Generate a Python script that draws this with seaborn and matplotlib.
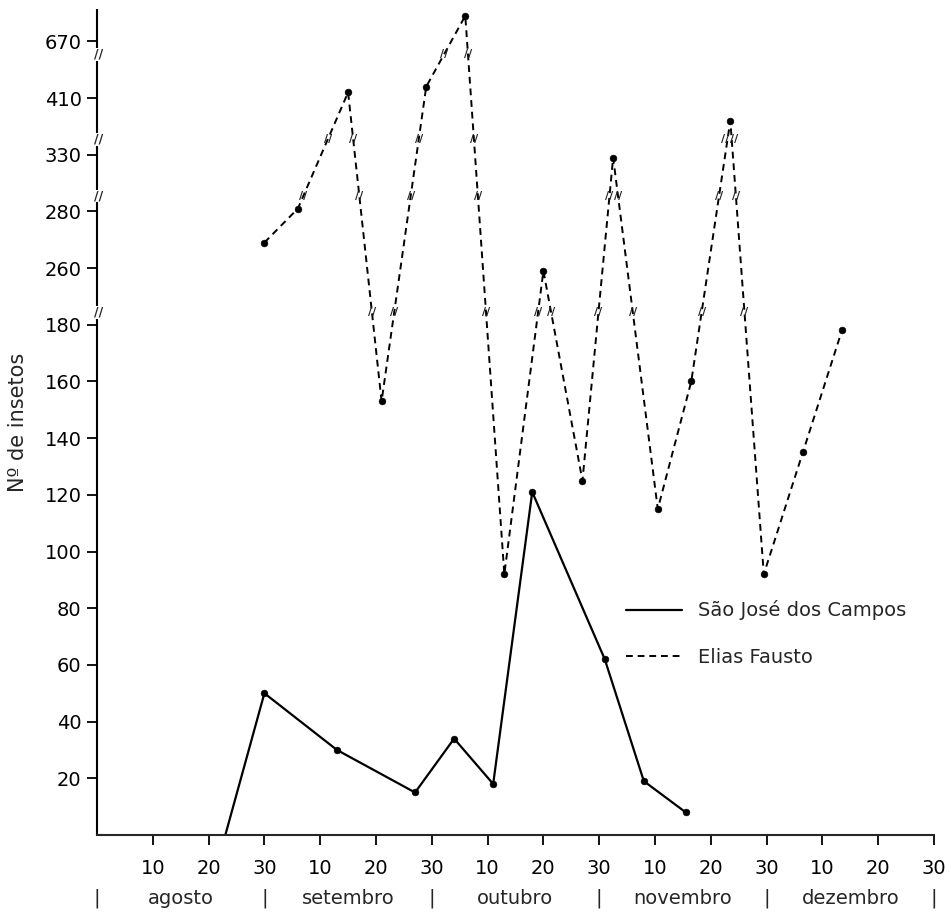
import numpy as np
import pandas as pd
import matplotlib
matplotlib.use("Agg")
import matplotlib.pyplot as plt
import seaborn as sns

# ---------------- data (days counted from 1 August) ----------------
sjc_day = [23, 30, 43, 57, 64, 71, 78, 91, 98, 105.5]
sjc_val = [0, 50, 30, 15, 34, 18, 121, 62, 19, 8]

ef_day = [30, 36, 45, 51, 59, 66, 73, 80, 87, 92.5, 100.5, 106.5, 113.5, 119.5, 126.5, 133.5]
ef_val = [269, 281, 412, 153, 414, 679, 92, 259, 125, 329, 115, 160, 402, 92, 135, 178]

y_ticks = [20, 40, 60, 80, 100, 120, 140, 160, 180, 260, 280, 330, 410, 670]
x_ticks = list(range(10, 151, 10))
x_tick_labels = ["10", "20", "30"] * 5
months = ["agosto", "setembro", "outubro", "novembro", "dezembro"]
month_bounds = [0, 30, 60, 90, 120, 150]

series_names = ["São José dos Campos", "Elias Fausto"]
y_label = "Nº de insetos"

# broken-axis mapping (value -> position, one tick step = 1)
knot_val = [-1000, 0, 184, 220, 254, 285, 300, 322, 334, 360, 398, 422, 500, 667, 700, 5000]
knot_pos = [-50, 0, 9.2, 9.22, 9.7, 11.25, 11.27, 11.6, 12.2, 12.27, 12.4, 13.6, 13.77, 13.85, 15.5, 230]
break_pos = [9.22, 11.27, 12.27, 13.77]
POS_TOP = 14.57


def fwd(v):
    return np.interp(v, knot_val, knot_pos)


def inv(p):
    return np.interp(p, knot_pos, knot_val)


sns.set_style("ticks")
plt.rcParams["font.family"] = ["DejaVu Sans"]

fig = plt.figure(figsize=(9.5, 9.14), dpi=100)
ax = fig.add_axes([97 / 950, 1 - 835 / 914, (934 - 97) / 950, (835 - 9) / 914])
ax.set_yscale("function", functions=(fwd, inv))

sjc = pd.DataFrame({"dia": sjc_day, "n": sjc_val})
ef = pd.DataFrame({"dia": ef_day, "n": ef_val})

sns.lineplot(data=sjc, x="dia", y="n", ax=ax, color="black", linewidth=1.6,
             label=series_names[0], sort=False)
sns.lineplot(data=ef, x="dia", y="n", ax=ax, color="black", linewidth=1.4,
             linestyle=(0, (3.5, 2.5)), label=series_names[1], sort=False)
sns.scatterplot(data=sjc.iloc[1:], x="dia", y="n", ax=ax, color="black", s=24,
                edgecolor="black", legend=False, zorder=3)
sns.scatterplot(data=ef, x="dia", y="n", ax=ax, color="black", s=24,
                edgecolor="black", legend=False, zorder=3)

# break marks on the dashed line where it crosses a break level
marks = {b: [] for b in break_pos}
for i in range(len(ef_day) - 1):
    p1, p2 = fwd(ef_val[i]), fwd(ef_val[i + 1])
    for b in break_pos:
        if min(p1, p2) < b < max(p1, p2):
            t = (b - p1) / (p2 - p1)
            marks[b].append(ef_day[i] + t * (ef_day[i + 1] - ef_day[i]))
min_gap = 1.5
for b, xs in marks.items():
    xs = sorted(xs)
    for j in range(1, len(xs)):
        if xs[j] - xs[j - 1] < min_gap:
            mid = (xs[j] + xs[j - 1]) / 2
            xs[j - 1], xs[j] = mid - min_gap / 2, mid + min_gap / 2
    for xb in xs:
        ax.text(xb, inv(b), "//", ha="center", va="center", fontsize=8,
                fontweight="bold", zorder=4)

ax.set_xlim(0, 150)
ax.set_ylim(0, inv(POS_TOP))
ax.set_yticks(y_ticks)
ax.set_yticklabels([str(t) for t in y_ticks])
ax.yaxis.set_minor_locator(matplotlib.ticker.NullLocator())
ax.set_xticks(x_ticks)
ax.set_xticklabels(x_tick_labels)
ax.tick_params(axis="both", direction="out", length=7, width=1.3, labelsize=14,
               colors="black")
ax.tick_params(axis="x", pad=10)
ax.tick_params(axis="y", pad=4)
ax.set_xlabel("")
ax.set_ylabel(y_label, fontsize=15, fontweight="medium")
ax.yaxis.set_label_coords(-0.083, 0.5)

for s in ["top", "right", "left"]:
    ax.spines[s].set_visible(False)
ax.spines["bottom"].set_linewidth(1.5)

# broken left spine
g = 0.11
edges = [0] + [v for b in break_pos for v in (b - g, b + g)] + [POS_TOP]
for a, b in zip(edges[0::2], edges[1::2]):
    ax.plot([0, 0], [a / POS_TOP, b / POS_TOP], transform=ax.transAxes,
            color="black", linewidth=1.5, clip_on=False, solid_capstyle="butt")
for b in break_pos:
    ax.text(0.002, b / POS_TOP, "//", transform=ax.transAxes, ha="center",
            va="center", fontsize=9, fontweight="bold")

# month row
trans = matplotlib.transforms.blended_transform_factory(ax.transData, ax.transAxes)
for m, x0 in zip(months, month_bounds[:-1]):
    ax.text(x0 + 15, -0.077, m, transform=trans, ha="center", va="center", fontsize=14)
for x0 in month_bounds:
    ax.text(x0, -0.077, "|", transform=trans, ha="center", va="center", fontsize=14)

leg = ax.legend(loc="center left", bbox_to_anchor=(0.632, 0.244), frameon=False,
                fontsize=14, handlelength=2.9, handletextpad=0.8, labelspacing=1.4,
                borderpad=0, borderaxespad=0)

fig.savefig("out.png", dpi=100)
